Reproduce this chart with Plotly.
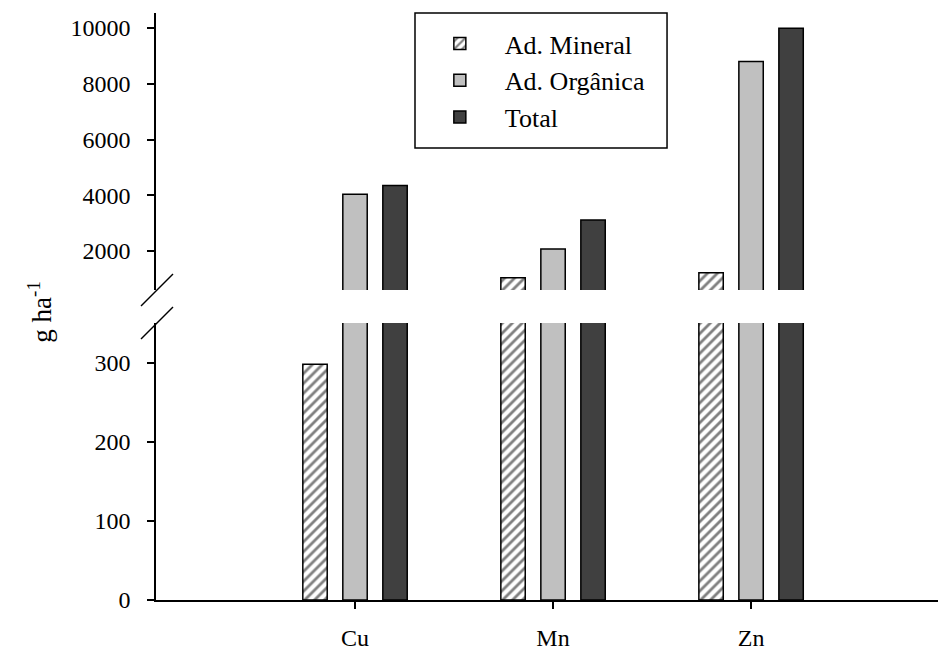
import plotly.graph_objects as go

# Micronutrient additions (g ha-1)
categories = ["Cu", "Mn", "Zn"]
ad_mineral = [298, 1040, 1220]
ad_organica = [4040, 2070, 8800]
total = [4350, 3110, 9990]

series = [
    ("Ad. Mineral", ad_mineral, dict(color="white",
                                     pattern=dict(shape="/", fgcolor="black", bgcolor="white",
                                                  size=7, solidity=0.4))),
    ("Ad. Orgânica", ad_organica, dict(color="#c0c0c0")),
    ("Total", total, dict(color="#404040")),
]

FONT = "Times New Roman, Liberation Serif, DejaVu Serif, serif"
fig = go.Figure()

# Each series is drawn in both panels of the broken axis
for name, vals, mk in series:
    marker = dict(mk, line=dict(color="black", width=1.5))
    fig.add_trace(go.Bar(x=categories, y=vals, name=name, marker=marker,
                         legendgroup=name, xaxis="x", yaxis="y"))
    fig.add_trace(go.Bar(x=categories, y=vals, name=name, marker=marker,
                         legendgroup=name, showlegend=False, xaxis="x2", yaxis="y2"))

lower_top, upper_bottom = 0.4719, 0.5281
axis_common = dict(showline=True, linecolor="black", linewidth=1.5, ticks="outside",
                   tickcolor="black", tickwidth=1.5, showgrid=False, zeroline=False,
                   automargin=False,
                   tickfont=dict(family=FONT, size=24, color="black"))

fig.update_layout(
    width=939, height=651,
    margin=dict(l=156, r=1, t=13, b=51, autoexpand=False),
    paper_bgcolor="white", plot_bgcolor="white",
    barmode="group", bargap=0.394, bargroupgap=0.39,
    font=dict(family=FONT, size=24, color="black"),
    xaxis=dict(axis_common, domain=[0, 1], anchor="y", range=[-1.005, 2.944],
               ticklen=7, ticklabelstandoff=8),
    xaxis2=dict(domain=[0, 1], anchor="y2", matches="x", visible=False),
    yaxis=dict(axis_common, domain=[0, lower_top], anchor="x", range=[0, 350],
               tickvals=[0, 100, 200, 300], tickformat="d", ticklen=7,
               ticklabelstandoff=12),
    yaxis2=dict(axis_common, domain=[upper_bottom, 1], anchor="x2", range=[600, 10540],
                tickvals=[2000, 4000, 6000, 8000, 10000], tickformat="d", ticklen=7,
                ticklabelstandoff=12),
    legend=dict(x=0.331, y=0.988, xanchor="left", yanchor="top",
                bgcolor="rgba(0,0,0,0)", borderwidth=0,
                font=dict(family=FONT, size=26, color="black"),
                itemwidth=80, tracegroupgap=0),
    annotations=[dict(text="g ha<sup>-1</sup>", textangle=-90, showarrow=False,
                      xref="paper", yref="paper", x=-0.148, y=0.49,
                      xanchor="center", yanchor="middle",
                      font=dict(family=FONT, size=27, color="black"))],
    shapes=[
        # legend frame
        dict(type="rect", xref="paper", yref="paper", x0=0.3312, x1=0.6535, y0=0.770, y1=1.0,
             fillcolor="white", line=dict(color="black", width=1.5), layer="above"),
        # axis break marks
        dict(type="line", xref="paper", xsizemode="pixel", xanchor=0, x0=-15, x1=17,
             yref="y2 domain", ysizemode="pixel", yanchor=0, y0=-16, y1=16,
             line=dict(color="black", width=1.5)),
        dict(type="line", xref="paper", xsizemode="pixel", xanchor=0, x0=-15, x1=17,
             yref="y domain", ysizemode="pixel", yanchor=1, y0=-16, y1=16,
             line=dict(color="black", width=1.5)),
    ],
)

fig.write_html("out.html")
